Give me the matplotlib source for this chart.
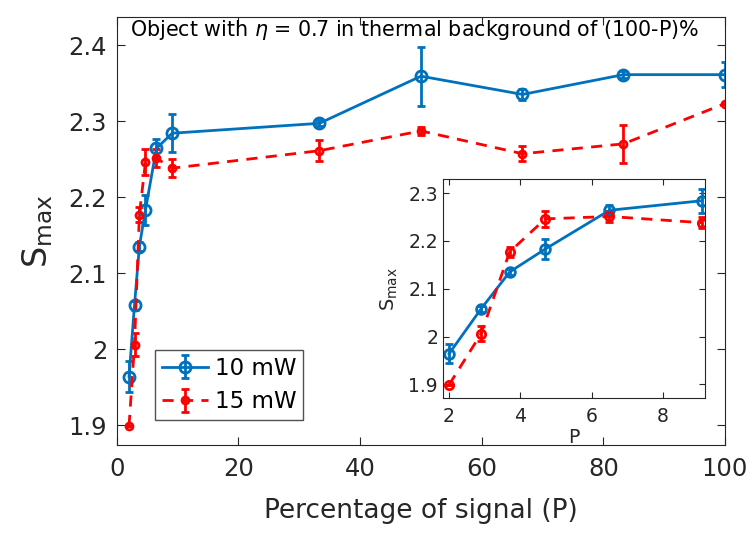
import numpy as np
import matplotlib
matplotlib.use("Agg")
import matplotlib.pyplot as plt

# percentage of signal
P = [2, 2.9, 3.7, 4.7, 6.5, 9.1, 33.3, 50, 66.7, 83.3, 100]

s10 = [1.964, 2.058, 2.135, 2.183, 2.264, 2.284, 2.297, 2.359, 2.335, 2.361, 2.361]
e10 = [0.020, 0.006, 0.006, 0.020, 0.012, 0.025, 0.004, 0.039, 0.007, 0.005, 0.016]

s15 = [1.899, 2.006, 2.177, 2.246, 2.251, 2.238, 2.261, 2.287, 2.257, 2.270, 2.323]
e15 = [0.000, 0.015, 0.010, 0.017, 0.012, 0.012, 0.014, 0.005, 0.010, 0.025, 0.000]

n_inset = 6  # first points shown in the zoom

blue = '#0072BD'
red = '#FF0000'
tick_col = '#262626'

fig = plt.figure(figsize=(7.54, 5.44), dpi=100)
ax = fig.add_axes([0.155, 0.182, 0.8065, 0.787])


def draw(a, x, y, e, col, ls, ms, lab=None):
    a.errorbar(x, y, yerr=e, color=col, ls=ls, lw=2, marker='o', ms=ms,
               mfc='none', mew=2, capsize=3, capthick=2, elinewidth=2,
               label=lab, dashes=(4, 3) if ls == '--' else (None, None))


draw(ax, P, s10, e10, blue, '-', 8, '10 mW')
draw(ax, P, s15, e15, red, '--', 5, '15 mW')

ax.set_xlim(0, 100)
ax.set_ylim(1.874, 2.437)
ax.set_xticks([0, 20, 40, 60, 80, 100])
ax.set_yticks([1.9, 2.0, 2.1, 2.2, 2.3, 2.4])
ax.set_yticklabels(['1.9', '2', '2.1', '2.2', '2.3', '2.4'])
ax.tick_params(direction='in', top=True, right=True, labelsize=17.5,
               colors=tick_col, length=6)
ax.tick_params(axis='x', pad=9)
ax.tick_params(axis='y', pad=7)
for sp in ax.spines.values():
    sp.set_color(tick_col)
ax.set_xlabel('Percentage of signal (P)', fontsize=19, color=tick_col, labelpad=12)
ax.set_ylabel(r'S$_{\mathrm{max}}$', fontsize=24, color=tick_col, labelpad=10)
ax.text(0.021, 0.97, r'Object with $\eta$ = 0.7 in thermal background of (100-P)%',
        transform=ax.transAxes, fontsize=14.9, va='center', ha='left')

leg = ax.legend(loc='lower left', bbox_to_anchor=(0.063, 0.058), fontsize=16.5,
                fancybox=False, edgecolor=tick_col, handlelength=2,
                borderpad=0.3, labelspacing=0.45, handletextpad=0.3,
                borderaxespad=0)
leg.get_frame().set_linewidth(1)

# inset
ins = fig.add_axes([0.5875, 0.268, 0.3475, 0.4026])
draw(ins, P[:n_inset], s10[:n_inset], e10[:n_inset], blue, '-', 7)
draw(ins, P[:n_inset], s15[:n_inset], e15[:n_inset], red, '--', 6)
ins.set_xlim(1.83, 9.18)
ins.set_ylim(1.871, 2.329)
ins.set_xticks([2, 4, 6, 8])
ins.set_yticks([1.9, 2.0, 2.1, 2.2, 2.3])
ins.set_yticklabels(['1.9', '2', '2.1', '2.2', '2.3'])
ins.tick_params(direction='in', top=True, right=True, labelsize=13.5,
                colors=tick_col, length=4)
ins.tick_params(axis='x', pad=6)
for sp in ins.spines.values():
    sp.set_color(tick_col)
ins.set_xlabel('P', fontsize=13.5, color=tick_col, labelpad=2)
ins.set_ylabel(r'S$_{\mathrm{max}}$', fontsize=14, color=tick_col, labelpad=6)

fig.savefig('out.png', dpi=100)
